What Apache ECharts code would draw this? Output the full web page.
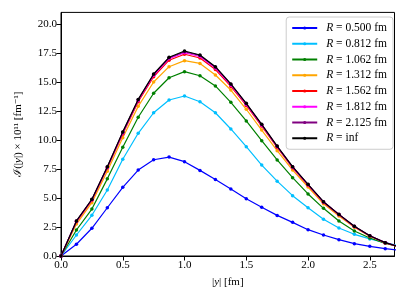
<!DOCTYPE html>
<html>
<head>
<meta charset="utf-8">
<script src="https://cdn.jsdelivr.net/npm/echarts@6/dist/echarts.min.js"></script>
<style>html,body{margin:0;padding:0;background:#fff;}#c{width:407px;height:305px;}</style>
</head>
<body>
<div id="c"></div>
<script>
const xValues = [0, 0.125, 0.25, 0.375, 0.5, 0.625, 0.75, 0.875, 1.0, 1.125, 1.25, 1.375, 1.5, 1.625, 1.75, 1.875, 2.0, 2.125, 2.25, 2.375, 2.5, 2.625, 2.75];
const seriesNames = ['R = 0.500 fm', 'R = 0.812 fm', 'R = 1.062 fm', 'R = 1.312 fm', 'R = 1.562 fm', 'R = 1.812 fm', 'R = 2.125 fm', 'R = inf'];
const r0500 = [0, 1.01, 2.39, 4.16, 5.92, 7.41, 8.30, 8.53, 8.13, 7.38, 6.60, 5.78, 4.94, 4.20, 3.50, 2.90, 2.27, 1.81, 1.41, 1.06, 0.83, 0.63, 0.48];
const r0812 = [0, 1.81, 3.51, 5.69, 8.34, 10.58, 12.35, 13.45, 13.79, 13.30, 12.35, 10.95, 9.42, 7.84, 6.45, 5.20, 4.16, 3.16, 2.41, 1.87, 1.47, 1.15, 0.85];
const r1062 = [0, 2.24, 4.05, 6.65, 9.37, 11.96, 14.03, 15.37, 15.89, 15.54, 14.66, 13.25, 11.64, 9.94, 8.28, 6.75, 5.35, 4.11, 3.02, 2.16, 1.55, 1.09, 0.78];
const r1312 = [0, 2.75, 4.60, 7.30, 10.20, 12.90, 15.00, 16.32, 16.84, 16.60, 15.60, 14.31, 12.65, 10.86, 9.08, 7.41, 5.95, 4.50, 3.45, 2.47, 1.70, 1.12, 0.74];
const r1562 = [0, 2.95, 4.80, 7.58, 10.52, 13.30, 15.45, 16.88, 17.39, 17.07, 16.08, 14.62, 12.98, 11.20, 9.36, 7.60, 6.10, 4.62, 3.55, 2.53, 1.73, 1.14, 0.75];
const r1812 = [0, 2.99, 4.85, 7.64, 10.61, 13.40, 15.58, 17.02, 17.52, 17.20, 16.20, 14.73, 13.07, 11.28, 9.42, 7.65, 6.14, 4.65, 3.57, 2.55, 1.74, 1.15, 0.75];
const r2125 = [0, 3.01, 4.87, 7.68, 10.67, 13.46, 15.65, 17.09, 17.61, 17.29, 16.28, 14.80, 13.13, 11.33, 9.46, 7.69, 6.17, 4.67, 3.58, 2.56, 1.75, 1.15, 0.75];
const rInf  = [0, 3.02, 4.89, 7.70, 10.70, 13.50, 15.69, 17.13, 17.67, 17.33, 16.32, 14.83, 13.16, 11.35, 9.48, 7.70, 6.18, 4.68, 3.59, 2.56, 1.75, 1.15, 0.75];
const xTicks = [0, 0.5, 1.0, 1.5, 2.0, 2.5];
const yTicks = [0, 2.5, 5, 7.5, 10, 12.5, 15, 17.5, 20];

const allValues = [r0500, r0812, r1062, r1312, r1562, r1812, r2125, rInf];
const colors = ['#0000ff', '#00bfff', '#008000', '#ffa500', '#ff0000', '#ff00ff', '#800080', '#000000'];
const FONT = '"Liberation Serif", "DejaVu Serif", serif';

const chart = echarts.init(document.getElementById('c'));
chart.setOption({
  animation: false,
  backgroundColor: '#fff',
  grid: { left: 61, right: 12.5, top: 12.4, bottom: 49, show: true, borderColor: '#000', borderWidth: 1, backgroundColor: 'transparent' },
  xAxis: {
    type: 'value', min: 0, max: 2.7,
    name: '|{i|y}| [fm]', nameLocation: 'middle', nameGap: 21,
    nameTextStyle: { fontFamily: FONT, fontSize: 11, color: '#000', rich: { i: { fontStyle: 'italic', fontFamily: FONT, fontSize: 11 } } },
    axisLine: { lineStyle: { color: '#000', width: 1 } },
    axisTick: { length: 4.5, lineStyle: { color: '#000' }, customValues: xTicks },
    axisLabel: { fontFamily: FONT, fontSize: 11, color: '#000', margin: 4, customValues: xTicks, formatter: v => v.toFixed(1) },
    splitLine: { show: false }
  },
  yAxis: {
    type: 'value', min: 0, max: 21,
    name: 'ℐ(|{i|y}|) × 10¹¹ [fm⁻¹]', nameLocation: 'middle', nameGap: 37,
    nameTextStyle: { fontFamily: FONT, fontSize: 11, color: '#000', rich: { i: { fontStyle: 'italic', fontFamily: FONT, fontSize: 11 } } },
    axisLine: { lineStyle: { color: '#000', width: 1 } },
    axisTick: { length: 4.5, lineStyle: { color: '#000' }, customValues: yTicks },
    axisLabel: { fontFamily: FONT, fontSize: 11, color: '#000', margin: 4, customValues: yTicks, formatter: v => v.toFixed(1) },
    splitLine: { show: false }
  },
  legend: {
    orient: 'vertical', right: 14, top: 17,
    backgroundColor: '#fff', borderColor: '#cccccc', borderWidth: 1, borderRadius: 3,
    padding: [5, 6, 5, 5], itemGap: 3.75, itemWidth: 25, itemHeight: 4,
    data: seriesNames,
    formatter: n => n.replace(/^R/, '{i|R}'),
    textStyle: { fontFamily: FONT, fontSize: 11.5, lineHeight: 12, padding: [0, 0, 0, 4], color: '#000', rich: { i: { fontStyle: 'italic', fontFamily: FONT, fontSize: 11.5, lineHeight: 12 } } }
  },
  series: allValues.map((vals, k) => ({
    name: seriesNames[k], type: 'line', clip: true,
    data: xValues.map((x, i) => [x, vals[i]]),
    symbol: 'circle', symbolSize: 3.5, showSymbol: true,
    lineStyle: { color: colors[k], width: 1.2 },
    itemStyle: { color: colors[k] },
    z: 2 + k
  }))
});
</script>
</body>
</html>
